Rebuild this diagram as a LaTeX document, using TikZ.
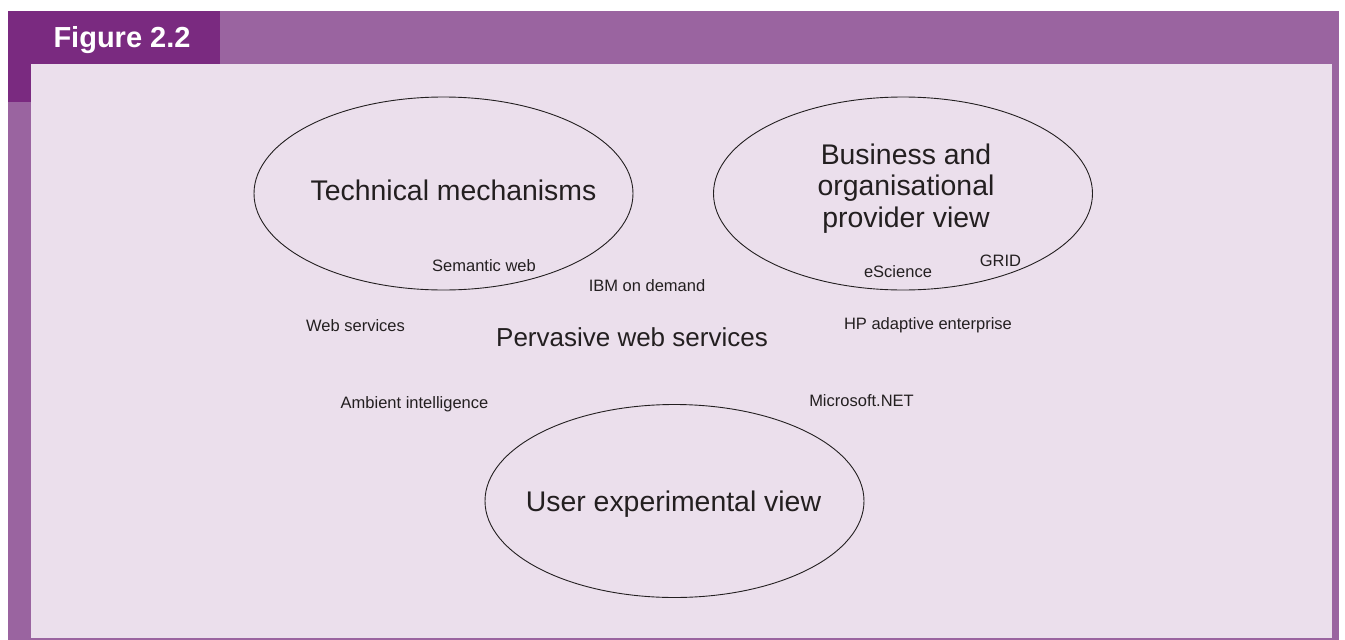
\documentclass[tikz,border=0pt]{standalone}
\usepackage{fontspec}
\setmainfont{Liberation Sans}
\usetikzlibrary{shapes.geometric}
\definecolor{framepurple}{HTML}{9A64A0}
\definecolor{tabpurple}{HTML}{7A2A80}
\definecolor{panel}{HTML}{EBDFEC}
\definecolor{ink}{HTML}{231F20}
\tikzset{
  area/.style={ellipse, draw=ink, line width=0.9pt, inner sep=0pt,
    minimum width=379pt, minimum height=193pt},
  viewtext/.style={anchor=base, text=ink, font=\fontsize{28.4}{31.5}\selectfont, inner sep=0pt},
  bigtext/.style={anchor=base, text=ink, font=\fontsize{26}{31}\selectfont, inner sep=0pt},
  smalltext/.style={anchor=base, text=ink, font=\fontsize{16.5}{20}\selectfont, inner sep=0pt},
}
\begin{document}
\begin{tikzpicture}[x=1pt, y=-1pt]
  \useasboundingbox (0,0) rectangle (1345,640);
  \fill[white] (0,0) rectangle (1345,640);
  % frame and inner panel
  \fill[framepurple] (8,11) rectangle (1339,640);
  \fill[tabpurple] (8,11) rectangle (220,64);
  \fill[tabpurple] (8,64) rectangle (31,102);
  \fill[panel] (31,64) rectangle (1332,638);
  \node[anchor=base, text=white, font=\fontsize{29}{34}\selectfont\bfseries, inner sep=0pt]
    (title) at (122,47) {Figure 2.2};

  % the three views
  \node[area] (tech) at (443.5,193.5) {};
  \node[area] (biz) at (903,193.5) {};
  \node[area] (user) at (674.5,501) {};

  \node[viewtext] (techlbl) at (453.5,200) {Technical mechanisms};
  \node[viewtext, align=center, anchor=north] (bizlbl) at (906,143.3)
    {Business and\\organisational\\provider view};
  \node[viewtext] (userlbl) at (673.5,511) {User experimental view};
  \node[bigtext] (pervasive) at (632,346) {Pervasive web services};

  % examples
  \node[smalltext] (semweb) at (484,271) {Semantic web};
  \node[smalltext] (ibm) at (647,291) {IBM on demand};
  \node[smalltext] (escience) at (898,277) {eScience};
  \node[smalltext] (grid) at (1000.5,266) {GRID};
  \node[smalltext] (websvc) at (355.5,331) {Web services};
  \node[smalltext] (hp) at (928,329) {HP adaptive enterprise};
  \node[smalltext] (ambient) at (414.5,408) {Ambient intelligence};
  \node[smalltext] (msnet) at (861.5,406) {Microsoft.NET};
\end{tikzpicture}
\end{document}
